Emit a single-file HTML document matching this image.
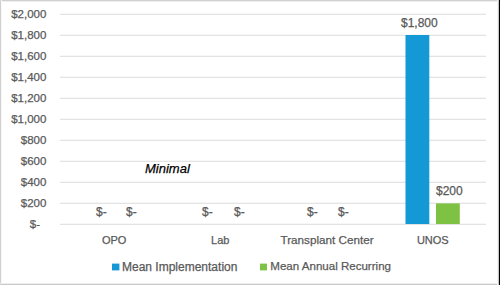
<!DOCTYPE html>
<html><head><meta charset="utf-8">
<style>
html,body{margin:0;padding:0;}
body{width:500px;height:285px;position:relative;overflow:hidden;background:#fff;font-family:"Liberation Sans",sans-serif;color:#595959;-webkit-text-stroke:0.25px #595959;}
svg{position:absolute;left:0;top:0;}
.t{position:absolute;white-space:pre;line-height:1;}
.c{position:absolute;width:100px;text-align:center;white-space:pre;line-height:1;}
.yl{position:absolute;right:453.6px;white-space:pre;line-height:1;font-size:11.5px;}
</style></head><body>
<svg width="500" height="285" viewBox="0 0 500 285">
<g fill="#f7f7f7">
<rect x="60" y="13" width="426" height="1"/><rect x="60" y="34" width="426" height="1"/><rect x="60" y="55" width="426" height="1"/><rect x="60" y="76" width="426" height="1"/><rect x="60" y="97" width="426" height="1"/><rect x="60" y="118" width="426" height="1"/><rect x="60" y="139" width="426" height="1"/><rect x="60" y="160" width="426" height="1"/><rect x="60" y="181" width="426" height="1"/><rect x="60" y="202" width="426" height="1"/><rect x="60" y="223" width="426" height="1"/>
</g>
<g fill="#e3e3e3">
<rect x="60" y="14" width="426" height="1"/><rect x="60" y="35" width="426" height="1"/><rect x="60" y="56" width="426" height="1"/><rect x="60" y="77" width="426" height="1"/><rect x="60" y="98" width="426" height="1"/><rect x="60" y="119" width="426" height="1"/><rect x="60" y="140" width="426" height="1"/><rect x="60" y="161" width="426" height="1"/><rect x="60" y="182" width="426" height="1"/><rect x="60" y="203" width="426" height="1"/><rect x="60" y="224" width="426" height="1"/>
</g>
<rect x="405.5" y="35" width="23.8" height="189" fill="#1499d6"/>
<rect x="436" y="203.4" width="23.8" height="20.6" fill="#7dc242"/>
<rect x="112" y="263.6" width="7.4" height="6.8" fill="#1499d6"/>
<rect x="260" y="263.6" width="7" height="6.8" fill="#7dc242"/>
<rect x="0" y="0" width="500" height="1" fill="#d0d0d0"/>
<rect x="0" y="1" width="498" height="1" fill="#f0f0f0"/>
<rect x="0" y="0" width="1" height="285" fill="#d0d0d0"/>
<rect x="1" y="0" width="1" height="285" fill="#f8f8f8"/>
<rect x="0" y="284" width="500" height="1" fill="#cacaca"/>
<rect x="0" y="283" width="498" height="1" fill="#eeeeee"/>
<rect x="497" y="0" width="1" height="285" fill="#f4f4f4"/>
<rect x="498" y="0" width="1" height="285" fill="#c8c8c8"/>
<rect x="499" y="0" width="1" height="285" fill="#000"/>
</svg>

<div class="yl" style="top:8.5px">$2,000</div>
<div class="yl" style="top:29.5px">$1,800</div>
<div class="yl" style="top:50.5px">$1,600</div>
<div class="yl" style="top:71.5px">$1,400</div>
<div class="yl" style="top:92.5px">$1,200</div>
<div class="yl" style="top:113.5px">$1,000</div>
<div class="yl" style="top:134.5px">$800</div>
<div class="yl" style="top:155.5px">$600</div>
<div class="yl" style="top:176.5px">$400</div>
<div class="yl" style="top:197.5px">$200</div>
<div class="yl" style="top:218.5px;right:460px">$-</div>

<div class="t" style="left:401px;top:16.5px;font-size:12px">$1,800</div>
<div class="t" style="left:436px;top:185px;font-size:12px">$200</div>

<div class="t" style="left:96px;top:206px;font-size:12px">$-</div>
<div class="t" style="left:126px;top:206px;font-size:12px">$-</div>
<div class="t" style="left:202px;top:206px;font-size:12px">$-</div>
<div class="t" style="left:234px;top:206px;font-size:12px">$-</div>
<div class="t" style="left:307px;top:206px;font-size:12px">$-</div>
<div class="t" style="left:338px;top:206px;font-size:12px">$-</div>

<div class="c" style="left:64.2px;top:235.3px;font-size:11px">OPO</div>
<div class="c" style="left:170.3px;top:235.3px;font-size:11px">Lab</div>
<div class="c" style="left:277px;top:234.3px;font-size:11.7px">Transplant Center</div>
<div class="c" style="left:382.8px;top:235.3px;font-size:11px">UNOS</div>

<div class="t" style="left:145px;top:162px;font-size:13px;font-style:italic;color:#000;-webkit-text-stroke:0.25px #000">Minimal</div>

<div class="t" style="left:122px;top:261px;font-size:12px">Mean Implementation</div>
<div class="t" style="left:270.3px;top:261px;font-size:11.55px">Mean Annual Recurring</div>
</body></html>
